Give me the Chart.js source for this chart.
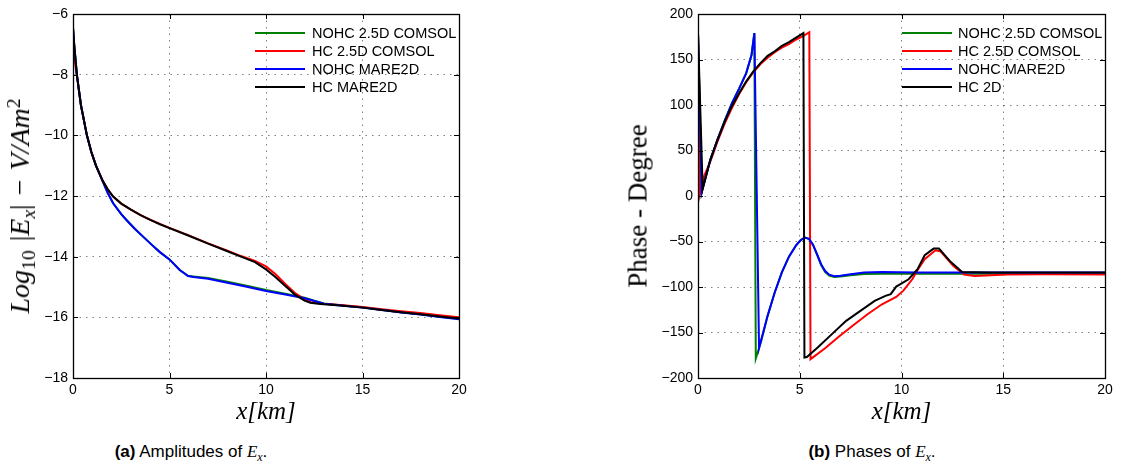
<!DOCTYPE html>
<html><head><meta charset="utf-8">
<script src="https://cdn.jsdelivr.net/npm/chart.js@4.4.0/dist/chart.umd.min.js"></script>
<style>
html,body{margin:0;padding:0;background:#fff;}
#wrap{position:relative;width:1121px;height:470px;overflow:hidden;background:#fff;}
canvas{position:absolute;top:0;}
#ca{left:0;width:560px;height:430px;}
#cb{left:560px;width:561px;height:430px;}
.yt{position:absolute;white-space:nowrap;line-height:1;color:#000;transform:translate(-50%,-50%) rotate(-90deg);font-family:"Liberation Serif","Times New Roman",serif;}
.yt sub{font-size:70%;vertical-align:baseline;position:relative;top:0.3em;line-height:0;font-style:normal;}
.yt sup{font-size:70%;vertical-align:baseline;position:relative;top:-0.45em;line-height:0;font-style:normal;}
.yt .up{font-style:normal;}
.yt .xs{font-style:italic;}
.cap{position:absolute;white-space:nowrap;line-height:1;transform:translateX(-50%);font-family:"Liberation Sans",Arial,sans-serif;font-size:17px;color:#000;}
.cap i{font-family:"Liberation Serif",serif;font-style:italic;}
.cap sub{font-size:70%;line-height:0;vertical-align:baseline;position:relative;top:0.3em;}
</style></head><body>
<div id="wrap">
<canvas id="ca" width="560" height="430"></canvas>
<canvas id="cb" width="561" height="430"></canvas>
<div class="yt" style="left:20px;top:206px;font-size:28px;font-style:italic;word-spacing:2px;">Log<sub>10</sub> <span class="up">|</span>E<sub class="xs">x</sub><span class="up">|</span> <span class="up">−</span> V/Am<sup>2</sup></div>
<div class="yt" style="left:638px;top:206px;font-size:27px;">Phase - Degree</div>
<div class="cap" style="left:191px;top:443px;"><b>(a)</b> Amplitudes of <i>E<sub>x</sub></i>.</div>
<div class="cap" style="left:872px;top:443px;"><b>(b)</b> Phases of <i>E<sub>x</sub></i>.</div>
</div>
<script>
// ---------- shared ----------
const xTicks = [0, 5, 10, 15, 20];
const ampYTicks = [-18, -16, -14, -12, -10, -8, -6];
const phaseYTicks = [-200, -150, -100, -50, 0, 50, 100, 150, 200];
const seriesNames = ['NOHC 2.5D COMSOL', 'HC 2.5D COMSOL', 'NOHC MARE2D', 'HC MARE2D'];
const seriesNamesB = ['NOHC 2.5D COMSOL', 'HC 2.5D COMSOL', 'NOHC MARE2D', 'HC 2D'];
const seriesColors = ['#008000', '#ff0000', '#0000ff', '#000000'];

// ---------- (a) amplitudes ----------
const ampX_HC = [0, 0.06, 0.2, 0.41, 0.72, 0.95, 1.19, 1.54, 1.8, 2.08, 2.5, 3, 3.5, 4, 4.5, 5, 6, 7, 8, 8.7, 9.43, 10, 10.5, 11, 11.5, 12, 12.3, 12.7, 13, 14, 15, 16, 17, 18, 19, 20];
const ampHC_MARE = [-6.45, -7.0, -8.0, -9.0, -10.0, -10.55, -11.0, -11.5, -11.78, -12.02, -12.25, -12.45, -12.63, -12.79, -12.93, -13.06, -13.31, -13.57, -13.82, -14.0, -14.18, -14.42, -14.68, -14.97, -15.25, -15.45, -15.52, -15.55, -15.57, -15.62, -15.68, -15.76, -15.83, -15.9, -15.97, -16.04];
const ampHC_COMSOL = [-7.2, -7.45, -8.02, -9.0, -10.0, -10.55, -11.0, -11.5, -11.78, -12.02, -12.25, -12.45, -12.63, -12.78, -12.92, -13.05, -13.3, -13.56, -13.8, -13.98, -14.14, -14.32, -14.58, -14.9, -15.2, -15.4, -15.5, -15.53, -15.55, -15.6, -15.66, -15.73, -15.8, -15.86, -15.93, -16.0];
const ampX_NOHC = [0, 0.06, 0.2, 0.41, 0.72, 0.95, 1.19, 1.54, 1.8, 2.08, 2.5, 2.77, 3.2, 3.63, 4.1, 4.5, 5, 5.53, 5.96, 6.23, 7, 8, 9, 10, 11, 12, 12.5, 13, 14, 15, 16, 17, 18, 19, 20];
const ampNOHC_MARE = [-6.45, -7.0, -8.0, -9.0, -10.0, -10.55, -11.0, -11.52, -11.9, -12.24, -12.6, -12.79, -13.08, -13.34, -13.62, -13.85, -14.09, -14.44, -14.64, -14.67, -14.73, -14.86, -14.99, -15.13, -15.25, -15.37, -15.46, -15.55, -15.62, -15.68, -15.76, -15.84, -15.91, -15.99, -16.06];
const ampNOHC_COMSOL = [-6.45, -7.0, -8.0, -9.0, -10.0, -10.55, -11.0, -11.52, -11.9, -12.24, -12.6, -12.79, -13.08, -13.34, -13.62, -13.85, -14.09, -14.44, -14.63, -14.65, -14.7, -14.83, -14.96, -15.1, -15.22, -15.35, -15.45, -15.54, -15.61, -15.67, -15.75, -15.83, -15.9, -15.98, -16.05];

// ---------- (b) phases ----------
const phX_HC2D = [0, 0.23, 0.61, 0.96, 1.32, 1.67, 2.02, 2.37, 2.72, 3.07, 3.42, 3.77, 4.12, 4.47, 4.82, 5.18, 5.23, 5.35, 5.88, 6.58, 7.28, 7.98, 8.68, 9.21, 9.47, 9.74, 10.35, 10.79, 11.14, 11.58, 11.84, 12.37, 12.98, 14.3, 16, 18, 20];
const phHC_2D = [179, 8, 40, 62, 82, 99, 113, 126, 137, 146, 154, 159, 165, 169, 174, 179, -177.5, -177, -166.5, -151.8, -137.2, -126.2, -115.3, -109.8, -107.9, -99.5, -91.5, -80.5, -65.1, -57.8, -57.8, -71.3, -83.4, -84.2, -84, -84.2, -84.2];
const phX_HCC = [0, 0.09, 0.3, 0.61, 0.96, 1.32, 1.67, 2.02, 2.37, 2.72, 3.07, 3.42, 3.77, 4.12, 4.47, 4.82, 5.18, 5.47, 5.53, 6.23, 6.93, 7.63, 8.33, 9.04, 9.74, 10.09, 10.53, 10.79, 11.14, 11.67, 11.93, 12.54, 13.07, 13.6, 15.18, 17, 20];
const phHC_COMSOL = [179, 2, 22, 38, 60, 80, 97, 112, 125, 136, 145, 152, 158, 163, 167, 172, 176, 180, -179.3, -167.6, -154.4, -142, -130, -119, -111, -104, -91.5, -81.2, -69.5, -59.6, -61, -76.8, -86.4, -87.8, -86.4, -86, -86.4];
const phX_NOM = [0, 0.18, 0.61, 0.96, 1.32, 1.67, 2.02, 2.37, 2.63, 2.77, 3.0, 3.42, 3.77, 4.12, 4.47, 4.82, 5.05, 5.25, 5.45, 5.65, 5.85, 6.05, 6.25, 6.45, 6.7, 7.0, 7.5, 8.16, 9.04, 10.79, 14, 20];
const phNOHC_MARE = [179, 4, 40, 62, 83, 102, 118, 135, 155, 179, -167, -131.7, -106, -84, -66.6, -54.2, -48.5, -45.6, -47, -53.5, -64, -75, -82.5, -86.5, -88.2, -87.6, -86, -84.2, -83.4, -84.2, -84.2, -84.2];
const phX_NOC = [0, 0.18, 0.61, 0.96, 1.32, 1.67, 2.02, 2.37, 2.63, 2.77, 2.84, 3.1, 3.42, 3.77, 4.12, 4.47, 4.82, 5.05, 5.25, 5.45, 5.65, 5.85, 6.05, 6.25, 6.45, 6.7, 7.0, 7.5, 8.16, 9.04, 10.79, 14, 20];
const phNOHC_COMSOL = [179, 4, 40, 62, 83, 102, 118, 135, 155, 179, -178.6, -160, -131.7, -106, -84, -66.6, -54.2, -48.5, -45.6, -47, -53.5, -64.5, -76, -83.5, -87.5, -89, -88.5, -87, -85.8, -85.5, -85.5, -85.5, -85.5];

// ---------- helpers ----------
const pts = (xs, ys) => xs.map((x, i) => ({x: x, y: ys[i]}));
const minus = v => String(v).replace('-', '\u2212');
const TICK_FONT = {family: '"Liberation Sans", Arial, sans-serif', size: 14};

const framePlugin = {
  id: 'frameLegend',
  afterDraw(chart, args, opts) {
    const {ctx, chartArea: a} = chart;
    const xs = chart.scales.x, ys = chart.scales.y;
    ctx.save();
    ctx.strokeStyle = '#000';
    ctx.lineWidth = 1;
    ctx.setLineDash([]);
    ctx.beginPath();
    const L = 5;
    xs.ticks.forEach(t => {
      const px = Math.round(xs.getPixelForValue(t.value)) + 0.5;
      ctx.moveTo(px, a.bottom); ctx.lineTo(px, a.bottom - L);
      ctx.moveTo(px, a.top); ctx.lineTo(px, a.top + L);
    });
    ys.ticks.forEach(t => {
      const py = Math.round(ys.getPixelForValue(t.value)) + 0.5;
      ctx.moveTo(a.left, py); ctx.lineTo(a.left + L, py);
      ctx.moveTo(a.right, py); ctx.lineTo(a.right - L, py);
    });
    ctx.stroke();
    ctx.lineWidth = 1.3;
    ctx.strokeRect(Math.round(a.left) + 0.5, Math.round(a.top) + 0.5, Math.round(a.right - a.left), Math.round(a.bottom - a.top));
    // legend
    ctx.font = '14.5px "Liberation Sans", Arial, sans-serif';
    ctx.textBaseline = 'middle';
    ctx.textAlign = 'left';
    ctx.fillStyle = '#000';
    opts.names.forEach((n, i) => {
      const y = opts.y0 + i * opts.dy;
      ctx.strokeStyle = seriesColors[i];
      ctx.lineWidth = 2.2;
      ctx.beginPath(); ctx.moveTo(opts.x1, y); ctx.lineTo(opts.x2, y); ctx.stroke();
      ctx.fillText(n, opts.tx, y + 0.5);
    });
    ctx.restore();
  }
};

function makeChart(id, datasets, cfg) {
  return new Chart(document.getElementById(id), {
    type: 'line',
    data: {datasets: datasets.map((d, i) => ({
      label: d.label, data: d.data, borderColor: seriesColors[i], backgroundColor: seriesColors[i],
      borderWidth: 2, pointRadius: 0, tension: 0, fill: false, order: 3 - i
    }))},
    options: {
      responsive: false, animation: false, devicePixelRatio: 1,
      layout: {padding: {left: 0, top: 14, right: cfg.padRight, bottom: 0}},
      plugins: {legend: {display: false}, tooltip: {enabled: false},
        frameLegend: cfg.legend},
      scales: {
        x: {
          type: 'linear', min: 0, max: 20,
          afterBuildTicks: s => { s.ticks = xTicks.map(v => ({value: v})); },
          afterFit: s => { s.height = 52; },
          grid: {color: 'rgba(0,0,0,0.5)', lineWidth: 1, drawTicks: false},
          border: {display: false, dash: [1.5, 5]},
          ticks: {font: TICK_FONT, color: '#000', padding: 4, maxRotation: 0, callback: v => minus(v)},
          title: {display: true, text: 'x[km]', color: '#000',
            font: {family: '"Liberation Serif", "Times New Roman", serif', style: 'italic', size: 25, lineHeight: 1.2},
            padding: {top: 0, bottom: 3}}
        },
        y: {
          type: 'linear', min: cfg.ymin, max: cfg.ymax,
          afterBuildTicks: s => { s.ticks = cfg.yTicks.map(v => ({value: v})); },
          afterFit: s => { s.width = cfg.yWidth; },
          grid: {color: 'rgba(0,0,0,0.5)', lineWidth: 1, drawTicks: false},
          border: {display: false, dash: [1.5, 5]},
          ticks: {font: TICK_FONT, color: '#000', padding: 5, callback: v => minus(v)},
          title: {display: false}
        }
      }
    },
    plugins: [framePlugin]
  });
}

makeChart('ca', [
  {label: seriesNames[0], data: pts(ampX_NOHC, ampNOHC_COMSOL)},
  {label: seriesNames[1], data: pts(ampX_HC, ampHC_COMSOL)},
  {label: seriesNames[2], data: pts(ampX_NOHC, ampNOHC_MARE)},
  {label: seriesNames[3], data: pts(ampX_HC, ampHC_MARE)}
], {padRight: 101, yWidth: 73, ymin: -18, ymax: -6, yTicks: ampYTicks,
    legend: {names: seriesNames, x1: 255, x2: 305, tx: 312, y0: 33, dy: 18}});

makeChart('cb', [
  {label: seriesNamesB[0], data: pts(phX_NOC, phNOHC_COMSOL)},
  {label: seriesNamesB[1], data: pts(phX_HCC, phHC_COMSOL)},
  {label: seriesNamesB[2], data: pts(phX_NOM, phNOHC_MARE)},
  {label: seriesNamesB[3], data: pts(phX_HC2D, phHC_2D)}
], {padRight: 16, yWidth: 138, ymin: -200, ymax: 200, yTicks: phaseYTicks,
    legend: {names: seriesNamesB, x1: 342, x2: 392, tx: 398, y0: 33, dy: 18}});
</script>
</body></html>
